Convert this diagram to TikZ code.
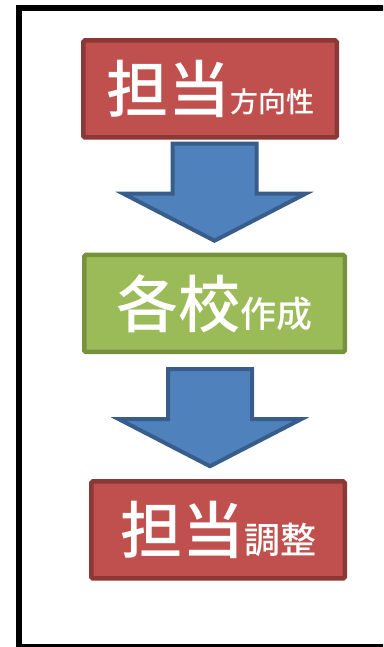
\documentclass[tikz,border=0pt]{standalone}
\usepackage{fontspec}
\usepackage{tikz}
\usetikzlibrary{positioning, calc}
\newfontfamily\cjk{Noto Sans CJK JP Medium}
\definecolor{redfill}{HTML}{C0504D}
\definecolor{redline}{HTML}{8C3836}
\definecolor{greenfill}{HTML}{9BBB59}
\definecolor{greenline}{HTML}{76923C}
\definecolor{bluefill}{HTML}{4F81BD}
\definecolor{blueline}{HTML}{385D8A}

\begin{document}
\begin{tikzpicture}[x=1pt, y=1pt,
    box/.style={draw, line width=4.5pt, rounded corners=1.5pt,
        inner sep=0pt, minimum height=97pt,
        text=white, font=\cjk},
    redbox/.style={box, fill=redfill, draw=redline},
    greenbox/.style={box, fill=greenfill, draw=greenline},
    blockarrow/.style={fill=bluefill, draw=blueline, line width=4pt}
]
    \path[use as bounding box, clip] (0,0) rectangle (383,647);

    % frame %
    \draw[line width=6pt] (19,0) rectangle (420,639);

    \node [redbox,
        minimum width=253.5pt
    ] (tanto) at (210,558) {%
        {\fontsize{62pt}{62pt}\selectfont 担当}%
        {\fontsize{28pt}{28pt}\selectfont 方向性}%
    };

    \node [greenbox,
        minimum width=260.5pt,
        below=113pt of tanto, xshift=4.5pt
    ] (kakko) {%
        {\fontsize{62pt}{62pt}\selectfont 各校}%
        {\fontsize{36pt}{36pt}\selectfont 作成}%
    };

    \node [redbox,
        minimum width=253.5pt,
        below=125pt of kakko, xshift=3.5pt
    ] (chosei) {%
        {\fontsize{62pt}{62pt}\selectfont 担当}%
        {\fontsize{36pt}{36pt}\selectfont 調整}%
    };

    % block arrows %
    \draw[blockarrow] ($(tanto.south)+(4.5,-4)$) -- ++(42,0) -- ++(0,-50)
        -- ++(49,0) -- ++(-91,-47) -- ++(-91,47) -- ++(49,0) -- ++(0,50) -- cycle;
    \draw[blockarrow] ($(kakko.south)+(-4.5,-15)$) -- ++(42,0) -- ++(0,-50)
        -- ++(49,0) -- ++(-91,-47) -- ++(-91,47) -- ++(49,0) -- ++(0,50) -- cycle;
\end{tikzpicture}
\end{document}
